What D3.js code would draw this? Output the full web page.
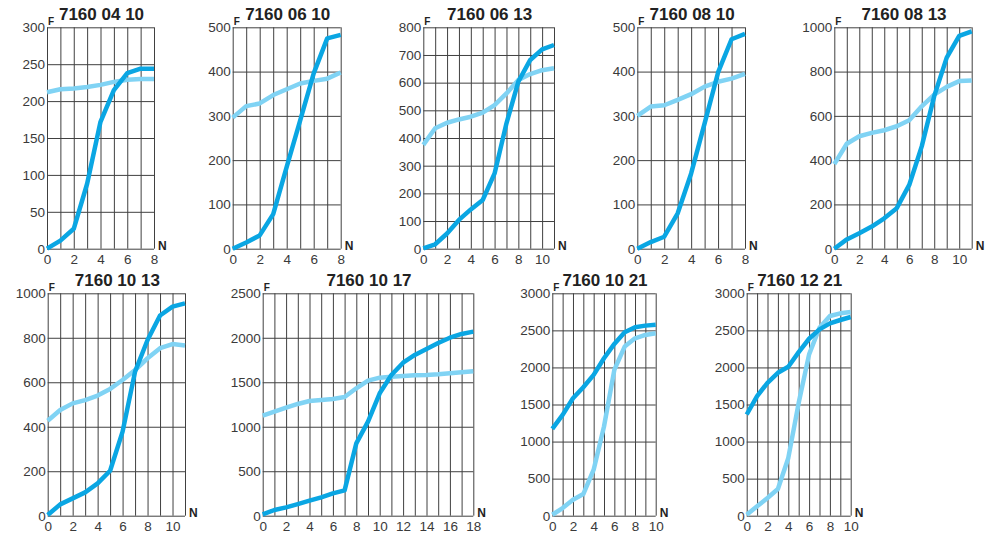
<!DOCTYPE html>
<html>
<head>
<meta charset="utf-8">
<script src="https://cdn.jsdelivr.net/npm/d3@7"></script>
<style>
  html, body { margin: 0; padding: 0; background: #fff; }
  svg { display: block; }
  text { font-family: "Liberation Sans", Arial, sans-serif; }
</style>
</head>
<body>
<svg id="chart" width="986" height="533"></svg>
<script>
// ---------- DATA ----------
const titles = ["7160 04 10", "7160 06 10", "7160 06 13", "7160 08 10", "7160 08 13",
                "7160 10 13", "7160 10 17", "7160 10 21", "7160 12 21"];
const xMaxes = [8, 8, 11, 8, 11, 11, 18, 10, 10];
const yMaxes = [300, 500, 800, 500, 1000, 1000, 2500, 3000, 3000];
const yTickSteps = [50, 100, 100, 100, 200, 200, 500, 500, 500];
const xTickStep = 2;
const yAxisLabel = "F";
const xAxisLabel = "N";

// dark blue series (value at N = 0, 1, 2, ...)
const dark_040410 = [0, 11, 27, 88, 172, 215, 238, 244, 244];
const dark_060610 = [0, 14, 30, 78, 185, 290, 396, 475, 483];
const dark_060613 = [1, 16, 55, 104, 142, 176, 272, 453, 604, 682, 720, 736];
const dark_080810 = [0, 15, 27, 80, 170, 283, 398, 473, 485];
const dark_080813 = [0, 42, 70, 100, 137, 183, 288, 462, 689, 863, 961, 982];
const dark_101013 = [3, 51, 78, 105, 145, 202, 378, 648, 790, 900, 940, 955];
const dark_101017 = [15, 64, 94, 131, 169, 206, 251, 285, 813, 1057, 1376, 1582, 1720, 1807, 1874, 1942, 2001, 2043, 2069];
const dark_101021 = [1172, 1360, 1585, 1733, 1900, 2124, 2317, 2474, 2541, 2564, 2577];
const dark_121221 = [1365, 1613, 1793, 1928, 2009, 2207, 2387, 2514, 2595, 2640, 2680];

// light blue series
const light_040410 = [212, 216, 217, 219, 222, 226, 229, 230, 230];
const light_060610 = [296, 322, 328, 347, 360, 373, 379, 384, 398];
const light_060613 = [375, 435, 455, 467, 477, 492, 519, 561, 610, 631, 645, 652];
const light_080810 = [300, 321, 324, 336, 349, 366, 377, 384, 395];
const light_080813 = [382, 474, 508, 523, 535, 553, 580, 643, 696, 731, 757, 760];
const light_101013 = [427, 475, 505, 520, 540, 570, 610, 655, 708, 753, 772, 765];
const light_101017 = [1124, 1169, 1214, 1256, 1289, 1300, 1312, 1334, 1432, 1518, 1552, 1563, 1570, 1578, 1582, 1589, 1600, 1612, 1623];
const light_101021 = [13, 103, 215, 292, 620, 1203, 1966, 2281, 2393, 2438, 2461];
const light_121221 = [14, 126, 239, 360, 779, 1523, 2176, 2536, 2694, 2730, 2748];

const darkSeries = [dark_040410, dark_060610, dark_060613, dark_080810, dark_080813,
                    dark_101013, dark_101017, dark_101021, dark_121221];
const lightSeries = [light_040410, light_060610, light_060613, light_080810, light_080813,
                     light_101013, light_101017, light_101021, light_121221];

// ---------- LAYOUT ----------
const panelLeft   = [47, 232.7, 423.3, 637.3, 834.3, 47.7, 262.7, 552.3, 746.7];
const panelRight  = [154, 340.7, 554, 745, 971.7, 185, 473.3, 655.7, 850.7];
const rowTop = [27.3, 293.3];
const rowBottom = [248.7, 515.7];
const panelRow = [0, 0, 0, 0, 0, 1, 1, 1, 1];

const darkColor = "#0aa6e3";
const lightColor = "#80d3f4";
const gridColor = "#404040";
const textColor = "#3a3a3a";

const svg = d3.select("#chart");

titles.forEach((title, i) => {
  const top = rowTop[panelRow[i]], bottom = rowBottom[panelRow[i]];
  const left = panelLeft[i], right = panelRight[i];
  const x = d3.scaleLinear().domain([0, xMaxes[i]]).range([left, right]);
  const y = d3.scaleLinear().domain([0, yMaxes[i]]).range([bottom, top]);
  const g = svg.append("g");

  // vertical gridlines (every unit)
  const xGridVals = d3.range(0, xMaxes[i] + 1, 1);
  g.append("g")
    .attr("transform", `translate(0,${bottom})`)
    .call(d3.axisBottom(x).tickValues(xGridVals).tickSize(-(bottom - top)).tickFormat(""))
    .call(a => a.select(".domain").remove())
    .call(a => a.selectAll("line").attr("stroke", gridColor).attr("stroke-width", 1));

  // horizontal gridlines
  const yVals = d3.range(0, yMaxes[i] + 1, yTickSteps[i]);
  g.append("g")
    .attr("transform", `translate(${left},0)`)
    .call(d3.axisLeft(y).tickValues(yVals).tickSize(-(right - left)).tickFormat(""))
    .call(a => a.select(".domain").remove())
    .call(a => a.selectAll("line").attr("stroke", gridColor).attr("stroke-width", 1));

  // y tick labels
  g.append("g")
    .attr("transform", `translate(${left},0)`)
    .call(d3.axisLeft(y).tickValues(yVals).tickSize(0).tickPadding(2).tickFormat(d3.format("d")))
    .call(a => a.select(".domain").remove())
    .call(a => a.selectAll("text")
      .attr("fill", textColor).style("font-size", "13.5px")
      .style("font-family", "'Liberation Sans', Arial, sans-serif"));

  // x tick labels
  const xTickVals = d3.range(0, xMaxes[i] + 0.001, xTickStep);
  g.append("g")
    .attr("transform", `translate(0,${bottom})`)
    .call(d3.axisBottom(x).tickValues(xTickVals).tickSize(0).tickPadding(6).tickFormat(d3.format("d")))
    .call(a => a.select(".domain").remove())
    .call(a => a.selectAll("text")
      .attr("fill", textColor).style("font-size", "13.5px")
      .style("font-family", "'Liberation Sans', Arial, sans-serif"));

  // lines
  const line = d3.line().x((d, k) => x(k)).y(d => y(d)).curve(d3.curveLinear);
  g.append("path").datum(lightSeries[i])
    .attr("d", line).attr("fill", "none")
    .attr("stroke", lightColor).attr("stroke-width", 4.5)
    .attr("stroke-linejoin", "round");
  g.append("path").datum(darkSeries[i])
    .attr("d", line).attr("fill", "none")
    .attr("stroke", darkColor).attr("stroke-width", 4.5)
    .attr("stroke-linejoin", "round");

  // title
  g.append("text")
    .attr("x", (left + right) / 2 + 1).attr("y", top - 7)
    .attr("text-anchor", "middle")
    .attr("fill", "#222").style("font-size", "17px").style("font-weight", "bold")
    .text(title);

  // axis letters
  g.append("text")
    .attr("x", left + 1).attr("y", top - 2)
    .attr("fill", "#222").style("font-size", "10px").style("font-weight", "bold")
    .text(yAxisLabel);
  g.append("text")
    .attr("x", right + 4).attr("y", bottom + 1)
    .attr("fill", "#222").style("font-size", "12px").style("font-weight", "bold")
    .text(xAxisLabel);
});
</script>
</body>
</html>
